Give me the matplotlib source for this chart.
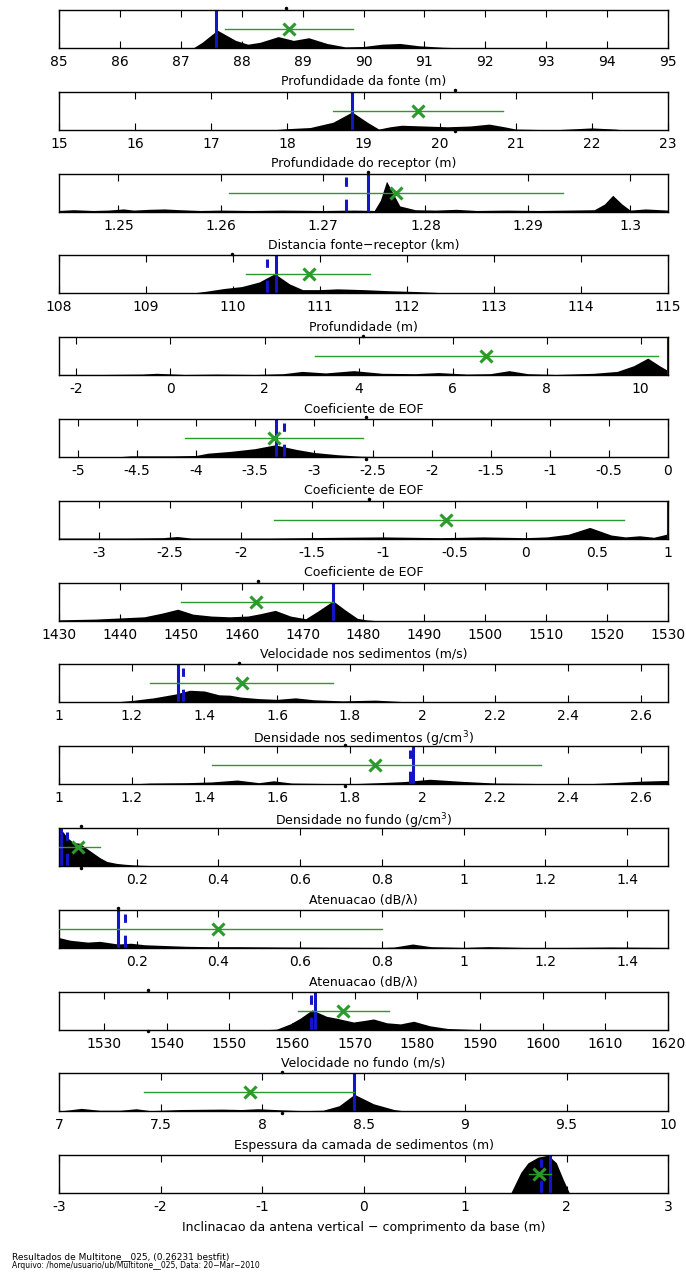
import numpy as np
import matplotlib
matplotlib.use("Agg")
import matplotlib.pyplot as plt
from matplotlib.ticker import FixedLocator, FuncFormatter

plt.rcParams['font.family'] = ['DejaVu Sans']

# --- rotulos dos parametros ---
labels = [
    "Profundidade da fonte (m)",
    "Profundidade do receptor (m)",
    "Distancia fonte\u2212receptor (km)",
    "Profundidade (m)",
    "Coeficiente de EOF",
    "Coeficiente de EOF",
    "Coeficiente de EOF",
    "Velocidade nos sedimentos (m/s)",
    "Densidade nos sedimentos (g/cm$^3$)",
    "Densidade no fundo (g/cm$^3$)",
    "Atenuacao (dB/\u03bb)",
    "Atenuacao (dB/\u03bb)",
    "Velocidade no fundo (m/s)",
    "Espessura da camada de sedimentos (m)",
    "Inclinacao da antena vertical \u2212 comprimento da base (m)",
]

# --- limites e ticks ---
xlims = [(85, 95), (15, 23), (1.2442, 1.3037), (108, 115), (-2.37, 10.58),
         (-5.16, 0), (-3.28, 1.0), (1430, 1530), (1, 2.675), (1, 2.675),
         (0.01, 1.5), (0.01, 1.5), (1522.8, 1620), (7, 10), (-3, 3)]
xticks = [
    [85, 86, 87, 88, 89, 90, 91, 92, 93, 94, 95],
    [15, 16, 17, 18, 19, 20, 21, 22, 23],
    [1.25, 1.26, 1.27, 1.28, 1.29, 1.3],
    [108, 109, 110, 111, 112, 113, 114, 115],
    [-2, 0, 2, 4, 6, 8, 10],
    [-5, -4.5, -4, -3.5, -3, -2.5, -2, -1.5, -1, -0.5, 0],
    [-3, -2.5, -2, -1.5, -1, -0.5, 0, 0.5, 1],
    [1430, 1440, 1450, 1460, 1470, 1480, 1490, 1500, 1510, 1520, 1530],
    [1, 1.2, 1.4, 1.6, 1.8, 2, 2.2, 2.4, 2.6],
    [1, 1.2, 1.4, 1.6, 1.8, 2, 2.2, 2.4, 2.6],
    [0.2, 0.4, 0.6, 0.8, 1, 1.2, 1.4],
    [0.2, 0.4, 0.6, 0.8, 1, 1.2, 1.4],
    [1530, 1540, 1550, 1560, 1570, 1580, 1590, 1600, 1610, 1620],
    [7, 7.5, 8, 8.5, 9, 9.5, 10],
    [-3, -2, -1, 0, 1, 2, 3],
]

# --- distribuicoes a posteriori (altura relativa) ---
fonte_x = [85, 87.2, 87.35, 87.6, 87.9, 88.1, 88.3, 88.6, 88.85, 89.1, 89.4, 89.7,
           90.0, 90.3, 90.6, 90.9, 91.3, 91.7, 95]
fonte_y = [0, 0, 0.15, 0.47, 0.2, 0.1, 0.15, 0.3, 0.2, 0.27, 0.12, 0.03,
           0.04, 0.1, 0.12, 0.06, 0.02, 0, 0]

receptor_x = [15, 17.8, 18.0, 18.3, 18.6, 18.85, 19.05, 19.2, 19.35, 19.5, 19.8, 20.1,
              20.4, 20.65, 20.85, 21.0, 21.5, 21.7, 22.0, 22.3, 22.4, 23]
receptor_y = [0, 0, 0.03, 0.06, 0.2, 0.47, 0.2, 0.02, 0.08, 0.12, 0.1, 0.08,
              0.1, 0.15, 0.08, 0.02, 0.0, 0.02, 0.05, 0.02, 0, 0]

dist_x = [1.2442, 1.2456, 1.2475, 1.2490, 1.2505, 1.2515, 1.2530, 1.2545, 1.2560, 1.258,
          1.260, 1.263, 1.266, 1.270, 1.273, 1.2750, 1.2756, 1.2762, 1.2768, 1.2775,
          1.2790, 1.281, 1.283, 1.285, 1.288, 1.291, 1.294, 1.2965, 1.2975, 1.2983,
          1.2992, 1.3, 1.3015, 1.3037]
dist_y = [0.03, 0.05, 0.03, 0.04, 0.07, 0.04, 0.06, 0.07, 0.05, 0.03,
          0.04, 0.03, 0.04, 0.03, 0.04, 0.03, 0.3, 0.8, 0.5, 0.15,
          0.05, 0.04, 0.06, 0.03, 0.04, 0.03, 0.04, 0.05, 0.2, 0.43,
          0.2, 0.04, 0.07, 0.04]

prof_x = [108, 109.5, 109.7, 109.9, 110.1, 110.3, 110.48, 110.65, 110.8, 111.0, 111.2,
          111.5, 111.8, 112.1, 112.4, 112.55, 115]
prof_y = [0, 0, 0.06, 0.13, 0.18, 0.3, 0.52, 0.25, 0.1, 0.1, 0.12,
          0.1, 0.07, 0.05, 0.02, 0, 0]

eof1_x = [-2.37, -1.5, -0.6, -0.3, 0.3, 1.0, 1.8, 2.4, 2.8, 3.3, 3.9, 4.5, 5.2, 5.7,
          6.3, 6.8, 7.2, 7.6, 8.2, 9.0, 9.5, 9.85, 10.15, 10.4, 10.58]
eof1_y = [0.02, 0.02, 0.03, 0.05, 0.02, 0.03, 0.02, 0.04, 0.1, 0.06, 0.12, 0.05, 0.04, 0.07,
          0.03, 0.04, 0.12, 0.04, 0.02, 0.05, 0.1, 0.25, 0.45, 0.25, 0.12]

eof2_x = [-5.16, -4.7, -4.55, -4.2, -4.0, -3.9, -3.7, -3.5, -3.33, -3.15, -3.0, -2.8,
          -2.6, -2.4, -2.3, 0]
eof2_y = [0, 0, 0.03, 0.03, 0.04, 0.1, 0.15, 0.22, 0.32, 0.2, 0.12, 0.06,
          0.02, 0.01, 0, 0]

eof3_x = [-3.28, -2.8, -2.55, -2.45, -2.35, -1.8, -1.3, -1.0, -0.6, -0.3, 0.0, 0.15,
          0.3, 0.45, 0.6, 0.7, 0.8, 0.9, 1.0]
eof3_y = [0.02, 0.02, 0.03, 0.06, 0.02, 0.02, 0.04, 0.05, 0.03, 0.05, 0.03, 0.05,
          0.12, 0.3, 0.1, 0.05, 0.08, 0.04, 0.13]

velsed_x = [1430, 1436, 1440, 1444, 1447, 1449.5, 1452, 1455, 1458, 1461, 1463, 1465.5,
            1468, 1470.5, 1472.5, 1475, 1477, 1479, 1480.5, 1482, 1530]
velsed_y = [0.02, 0.04, 0.07, 0.1, 0.2, 0.3, 0.17, 0.12, 0.1, 0.12, 0.18, 0.27,
            0.12, 0.05, 0.25, 0.52, 0.28, 0.06, 0.02, 0, 0]

densed_x = [1, 1.1, 1.15, 1.2, 1.26, 1.32, 1.36, 1.4, 1.44, 1.47, 1.5, 1.55, 1.6, 1.65,
            1.7, 1.78, 1.87, 1.95, 2.1, 2.3, 2.5, 2.675]
densed_y = [0, 0, 0.01, 0.05, 0.12, 0.22, 0.32, 0.3, 0.2, 0.19, 0.14, 0.1, 0.08, 0.12,
            0.07, 0.04, 0.06, 0.02, 0.02, 0.01, 0.01, 0.01]

denfun_x = [1, 1.18, 1.25, 1.35, 1.42, 1.49, 1.55, 1.59, 1.64, 1.72, 1.8, 1.88, 1.95,
            2.02, 2.1, 2.2, 2.3, 2.42, 2.5, 2.6, 2.675]
denfun_y = [0, 0, 0.03, 0.04, 0.06, 0.11, 0.04, 0.09, 0.03, 0.02, 0.01, 0.04, 0.07,
            0.13, 0.08, 0.03, 0.02, 0.0, 0.03, 0.08, 0.1]

aten1_x = [0.01, 0.02, 0.03, 0.045, 0.06, 0.086, 0.11, 0.127, 0.15, 0.167, 0.19, 0.21,
           0.24, 0.265, 0.3, 1.5]
aten1_y = [0.93, 0.9, 0.75, 0.62, 0.6, 0.4, 0.22, 0.12, 0.07, 0.05, 0.03, 0.02,
           0.01, 0.005, 0, 0]

aten2_x = [0.01, 0.037, 0.08, 0.11, 0.154, 0.186, 0.22, 0.27, 0.32, 0.375, 0.45, 0.56,
           0.67, 0.8, 0.83, 0.875, 0.92, 1.0, 1.06, 1.15, 1.25, 1.36, 1.5]
aten2_y = [0.27, 0.2, 0.15, 0.17, 0.1, 0.12, 0.08, 0.06, 0.04, 0.03, 0.03, 0.02,
           0.015, 0.01, 0.02, 0.1, 0.03, 0.01, 0.03, 0.01, 0.01, 0.02, 0.01]

velfun_x = [1522.8, 1556, 1557.5, 1559.7, 1561.3, 1563.2, 1565.5, 1567.1, 1569.8, 1571.5,
            1573, 1575.1, 1577.3, 1579.4, 1582, 1584.8, 1588, 1590, 1620]
velfun_y = [0, 0, 0.01, 0.15, 0.3, 0.52, 0.35, 0.3, 0.2, 0.24,
            0.28, 0.18, 0.15, 0.22, 0.1, 0.03, 0.01, 0, 0]

esp_x = [7, 7.05, 7.11, 7.2, 7.3, 7.38, 7.45, 7.6, 7.8, 7.9, 7.98, 8.1, 8.2, 8.3, 8.38,
         8.455, 8.55, 8.65, 8.72, 10]
esp_y = [0.01, 0.04, 0.08, 0.03, 0.03, 0.07, 0.02, 0.05, 0.06, 0.05, 0.07, 0.04, 0.02,
         0.03, 0.15, 0.45, 0.2, 0.05, 0, 0]

incl_x = [-3, 1.45, 1.55, 1.62, 1.72, 1.82, 1.9, 1.97, 2.03, 3]
incl_y = [0, 0, 0.55, 0.8, 0.95, 1.0, 0.8, 0.35, 0, 0]

hist_x = [fonte_x, receptor_x, dist_x, prof_x, eof1_x, eof2_x, eof3_x, velsed_x,
          densed_x, denfun_x, aten1_x, aten2_x, velfun_x, esp_x, incl_x]
hist_y = [fonte_y, receptor_y, dist_y, prof_y, eof1_y, eof2_y, eof3_y, velsed_y,
          densed_y, denfun_y, aten1_y, aten2_y, velfun_y, esp_y, incl_y]

# --- melhor ajuste (azul continuo) e valor alternativo (azul tracejado) ---
best = [87.58, 18.85, 1.2744, 110.49, 10.57, -3.32, 0.997, 1475, 1.326, 1.975,
        0.016, 0.155, 1563.6, 8.455, 1.84]
alt = [None, None, 1.2722, 110.39, None, -3.25, None, None, 1.34, 1.965,
       0.03, 0.171, 1563.0, None, 1.75]

# --- media e desvio (verde) ---
mean = [88.77, 19.71, 1.2771, 110.87, 6.72, -3.34, -0.56, 1462.3, 1.504, 1.87,
        0.057, 0.40, 1568.1, 7.94, 1.73]
lo = [87.72, 18.6, 1.2608, 110.15, 3.07, -4.09, -1.77, 1450, 1.25, 1.42,
      0.01, 0.01, 1561, 7.42, 1.63]
hi = [89.83, 20.83, 1.2934, 111.57, 10.37, -2.58, 0.69, 1475, 1.753, 2.325,
      0.11, 0.80, 1575.5, 8.455, 1.85]

# --- marcadores pequenos nas bordas ---
dots_top = [88.72, 20.2, 1.2744, 109.99, 4.09, -2.56, -1.1, 1462.7, 1.495, 1.787,
            0.063, 0.155, 1537, 8.1, None]
dots_bot = [None, 20.2, None, None, None, -2.56, None, None, None, 1.787,
            0.063, None, 1537, 8.1, None]

BLUE = '#1414c8'
GREEN = '#2a9a2a'

W, H = 686, 1275
fig = plt.figure(figsize=(W / 100, H / 100), dpi=100)

left, right = 59, 668
top0, pitch, ph = 10, 81.8, 38

fmt = FuncFormatter(lambda v, p: ('%g' % v))

for i in range(15):
    top = top0 + i * pitch
    ax = fig.add_axes([left / W, 1 - (top + ph) / H, (right - left) / W, ph / H])
    ax.fill_between(hist_x[i], 0, hist_y[i], color='k', lw=0, zorder=1)
    ax.plot([best[i], best[i]], [0, 1], color=BLUE, lw=2.2, zorder=2,
            solid_capstyle='butt')
    if alt[i] is not None:
        ax.plot([alt[i], alt[i]], [0, 0.9], color=BLUE, lw=2.2, zorder=2,
                linestyle=(0, (4.2, 4.2)), dash_capstyle='butt')
    ax.plot([lo[i], hi[i]], [0.5, 0.5], color=GREEN, lw=1.0, zorder=3)
    ax.plot(mean[i], 0.5, 'x', color=GREEN, ms=8, mew=2.2, zorder=4)
    if dots_top[i] is not None:
        ax.plot(dots_top[i], 1.04, '.', color='k', ms=3, clip_on=False, zorder=5)
    if dots_bot[i] is not None:
        ax.plot(dots_bot[i], -0.04, '.', color='k', ms=3, clip_on=False, zorder=5)

    ax.set_xlim(*xlims[i])
    ax.set_ylim(0, 1)
    ax.set_yticks([])
    ax.xaxis.set_major_locator(FixedLocator(xticks[i]))
    ax.xaxis.set_major_formatter(fmt)
    ax.tick_params(axis='x', direction='in', top=True, bottom=True, length=5,
                   width=0.8, labelsize=10, pad=5)
    for s in ax.spines.values():
        s.set_linewidth(1.0)
    ax.set_xlabel(labels[i], fontsize=9)
    ax.xaxis.set_label_coords(0.5, -0.72)

fig.text(12 / W, 1 - 1257 / H, "Resultados de Multitone__025, (0.26231 bestfit)",
         fontsize=6.5, va='center', ha='left')
fig.text(12 / W, 1 - 1266 / H,
         "Arquivo: /home/usuario/ub/Multitone__025, Data: 20\u2212Mar\u22122010",
         fontsize=5.5, va='center', ha='left')

fig.savefig('out.png', dpi=100)
